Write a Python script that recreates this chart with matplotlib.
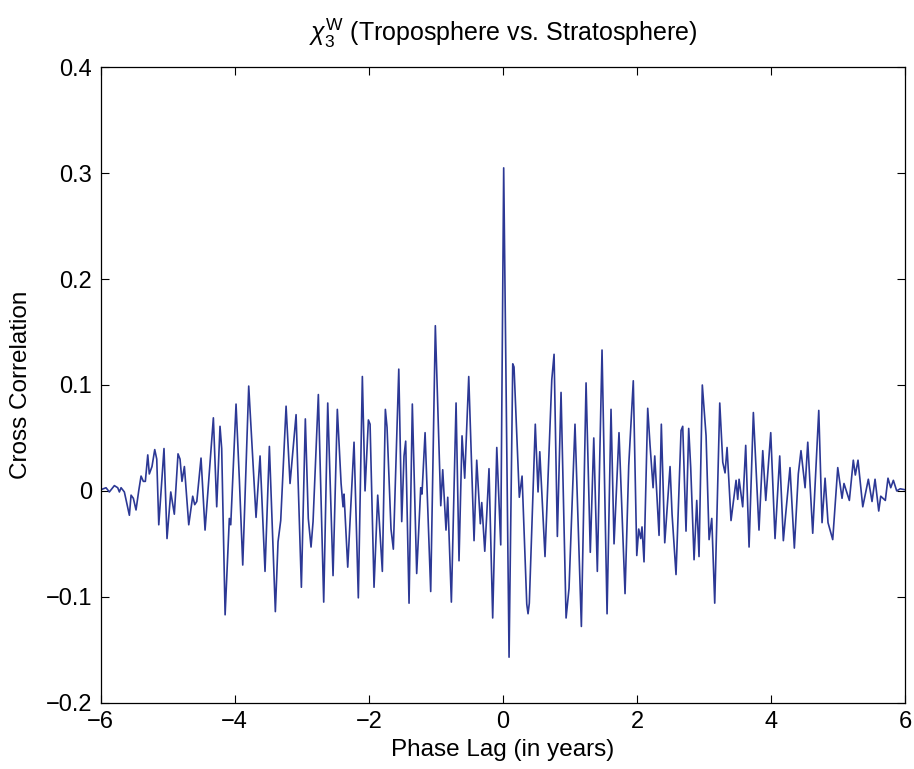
import matplotlib
matplotlib.use("Agg")
import matplotlib.pyplot as plt

plt.rcParams['font.family'] = ['Liberation Sans', 'DejaVu Sans']
plt.rcParams['mathtext.fontset'] = 'custom'
plt.rcParams['mathtext.rm'] = 'Liberation Sans'
plt.rcParams['mathtext.it'] = 'Liberation Sans:italic'

# phase lag (years) / cross correlation
lag = [
    -6.000, -5.918, -5.869, -5.794, -5.744, -5.719, -5.694, -5.645, -5.570, -5.545,
    -5.511, -5.471, -5.431, -5.396, -5.362, -5.332, -5.296, -5.273, -5.233, -5.192,
    -5.162, -5.132, -5.054, -5.009, -4.953, -4.900, -4.845, -4.815, -4.786, -4.750,
    -4.685, -4.626, -4.596, -4.565, -4.502,
    -4.442, -4.318, -4.268, -4.219, -4.194, -4.143, -4.080, -4.059, -3.980, -3.930,
    -3.880, -3.791, -3.682, -3.622, -3.548, -3.483, -3.394, -3.354, -3.314, -3.234,
    -3.175, -3.085, -3.006, -2.947,
    -2.903, -2.862, -2.832, -2.753, -2.673, -2.613, -2.534, -2.470, -2.414, -2.385,
    -2.370, -2.315, -2.221, -2.157, -2.097, -2.057, -2.007, -1.982, -1.923, -1.868,
    -1.799, -1.754, -1.729, -1.670, -1.635, -1.554, -1.510, -1.476, -1.451, -1.401,
    -1.352,
    -1.287, -1.227, -1.208, -1.162, -1.078, -1.009, -0.928, -0.899, -0.850, -0.824,
    -0.770, -0.700, -0.656, -0.611, -0.571, -0.511, -0.432, -0.392, -0.338, -0.317,
    -0.272, -0.243, -0.209, -0.154, -0.093, -0.034, 0.010, 0.090, 0.145, 0.164,
    0.243, 0.284, 0.354, 0.373, 0.392, 0.481, 0.522, 0.548, 0.626,
    0.727, 0.761, 0.810, 0.865, 0.940, 0.984, 1.073, 1.168, 1.238, 1.301,
    1.353, 1.406, 1.476, 1.551, 1.610, 1.655, 1.729, 1.819,
    1.874, 1.942, 1.994, 2.023, 2.053, 2.072, 2.102, 2.157, 2.192, 2.237,
    2.262, 2.326, 2.360, 2.411, 2.490, 2.520, 2.579, 2.654, 2.679, 2.728,
    2.768, 2.798, 2.848, 2.888, 2.922, 2.971, 3.027, 3.072, 3.112, 3.156,
    3.231, 3.276, 3.310, 3.340,
    3.399, 3.474, 3.499, 3.519, 3.573, 3.618, 3.668, 3.732, 3.816, 3.872,
    3.917, 3.991, 4.055, 4.125, 4.179, 4.214, 4.278, 4.343, 4.402, 4.442,
    4.503, 4.543, 4.617, 4.707, 4.756, 4.801, 4.845, 4.915,
    4.990, 5.054, 5.083, 5.163, 5.222, 5.252, 5.292, 5.363, 5.446, 5.501,
    5.546, 5.601, 5.631, 5.699, 5.739, 5.780, 5.819, 5.869, 5.921, 6.000,
]
xcorr = [
    0.001, 0.003, -0.001, 0.005, 0.003, -0.001, 0.003, -0.001, -0.023, -0.004,
    -0.007, -0.018, 0.000, 0.014, 0.009, 0.009, 0.034, 0.016, 0.023, 0.039,
    0.030, -0.032, 0.040, -0.045, -0.001, -0.022, 0.035, 0.030, 0.009, 0.023,
    -0.032, -0.005, -0.013, -0.010, 0.031,
    -0.037, 0.069, -0.015, 0.061, 0.040, -0.117, -0.026, -0.032, 0.082, 0.010,
    -0.070, 0.099, -0.025, 0.033, -0.076, 0.042, -0.114, -0.048, -0.028, 0.080,
    0.007, 0.072, -0.091, 0.068,
    -0.026, -0.053, -0.029, 0.091, -0.105, 0.083, -0.080, 0.077, 0.007, -0.015,
    -0.003, -0.072, 0.046, -0.101, 0.108, 0.000, 0.067, 0.063, -0.091, -0.004,
    -0.076, 0.077, 0.060, -0.036, -0.055, 0.115, -0.029, 0.033, 0.047, -0.106,
    0.082,
    -0.078, 0.003, -0.003, 0.055, -0.095, 0.156, -0.014, 0.020, -0.037, -0.006,
    -0.105, 0.083, -0.066, 0.052, 0.012, 0.108, -0.047, 0.029, -0.031, -0.011,
    -0.057, -0.023, 0.021, -0.120, 0.041, -0.051, 0.305, -0.157, 0.120, 0.117,
    -0.006, 0.014, -0.107, -0.116, -0.106, 0.063, -0.001, 0.037, -0.062,
    0.105, 0.129, -0.043, 0.093, -0.120, -0.092, 0.063, -0.128, 0.102, -0.058,
    0.050, -0.076, 0.133, -0.116, 0.077, -0.050, 0.055, -0.097,
    0.024, 0.104, -0.061, -0.036, -0.045, -0.034, -0.067, 0.078, 0.043, 0.003,
    0.033, -0.042, 0.063, -0.049, 0.023, -0.022, -0.079, 0.057, 0.061, -0.038,
    0.059, 0.022, -0.065, -0.009, -0.062, 0.100, 0.052, -0.046, -0.026, -0.106,
    0.083, 0.027, 0.017, 0.041,
    -0.028, 0.010, -0.008, 0.011, -0.015, 0.043, -0.053, 0.074, -0.037, 0.038,
    -0.009, 0.055, -0.045, 0.033, -0.047, -0.022, 0.022, -0.054, 0.016, 0.038,
    0.003, 0.046, -0.040, 0.076, -0.030, 0.012, -0.030, -0.046,
    0.022, -0.007, 0.007, -0.009, 0.029, 0.015, 0.029, -0.015, 0.011, -0.010,
    0.011, -0.019, -0.005, -0.009, 0.012, 0.003, 0.010, 0.000, 0.002, 0.001,
]

fig = plt.figure(figsize=(9.14, 7.69), dpi=100)
ax = fig.add_axes([0.110, 0.0862, 0.8807, 0.8263])

ax.plot(lag, xcorr, color='#2c3895', lw=1.2)

ax.set_xlim(-6, 6)
ax.set_ylim(-0.2, 0.4)
ax.set_xticks([-6, -4, -2, 0, 2, 4, 6])
ax.set_yticks([-0.2, -0.1, 0, 0.1, 0.2, 0.3, 0.4])
ax.set_yticklabels(['\u22120.2', '\u22120.1', '0', '0.1', '0.2', '0.3', '0.4'])
ax.set_xticklabels(['\u22126', '\u22124', '\u22122', '0', '2', '4', '6'])
ax.tick_params(direction='in', length=6, width=0.8, top=True, right=True,
               labelsize=17, pad=6)
for s in ax.spines.values():
    s.set_linewidth(0.9)

ax.set_xlabel('Phase Lag (in years)', fontsize=17.5, labelpad=4)
ax.set_ylabel('Cross Correlation', fontsize=17.5, labelpad=10)
ax.set_title(r'$\chi_3^\mathregular{W}$ (Troposphere vs. Stratosphere)',
             fontsize=18, pad=19)

fig.savefig('out.png', dpi=100)
